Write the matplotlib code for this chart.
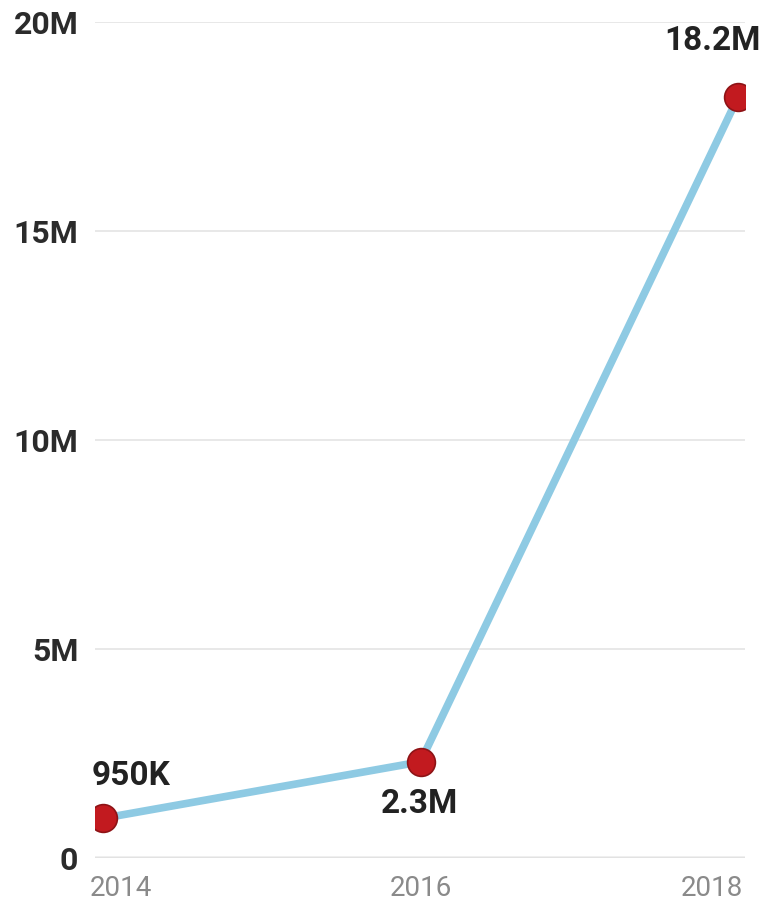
import numpy as np
import matplotlib
matplotlib.use('Agg')
import matplotlib.pyplot as plt
from matplotlib.ticker import FuncFormatter
import matplotlib.transforms as mtransforms

#---------------------- DATA
years  = [2014, 2016, 2018]
values = [950000, 2300000, 18200000]
labels = ['950K', '2.3M', '18.2M']
yticks = [0, 5e6, 10e6, 15e6, 20e6]

# label offsets in pixels (dx, dy) relative to each point
offs = [(28, 42), (-1, -42), (-26, 56)]

#---------------------- PLOTTING
plt.rcParams['font.family'] = ['Roboto', 'DejaVu Sans']

fig = plt.figure(figsize=(7.6, 9.01), dpi=100)
ax = fig.add_axes([95/760., 1-858/901., 650/760., (858-22)/901.])

ax.plot(years, values, color='#8ecae3', linewidth=5.5, zorder=2, solid_capstyle='round')
ax.plot(years, values, 'o', markersize=20, markerfacecolor='#c21a1f',
        markeredgecolor='#8e1316', markeredgewidth=1.2, zorder=3)

for x, y, s, (dx, dy) in zip(years, values, labels, offs):
    ax.annotate(s, (x, y), xytext=(dx, dy), textcoords='offset pixels',
                ha='center', va='center', fontsize=24, fontweight='bold',
                color='#222222', zorder=4)

ax.set_xlim(2014 - 8/158.75, 2018 + 7/158.75)
ax.set_ylim(0, 20e6)

ax.set_yticks(yticks)
ax.yaxis.set_major_formatter(FuncFormatter(lambda v, p: '0' if v == 0 else '%dM' % (v/1e6)))
ax.set_xticks(years)
ax.set_xticklabels([str(y) for y in years])

ax.grid(axis='y', color='#e6e6e6', linewidth=1.3, zorder=0)
ax.axhline(0, color='#bdbdbd', linewidth=2.5, zorder=1)
for sp in ax.spines.values():
    sp.set_visible(False)

ax.tick_params(axis='both', length=0)
ax.tick_params(axis='y', pad=12, labelsize=23, labelcolor='#2b2b2b')
ax.tick_params(axis='x', pad=12, labelsize=20, labelcolor='#8a8a8a')
for t in ax.get_yticklabels():
    t.set_fontweight('bold')

xl = ax.get_xticklabels()
xl[0].set_ha('left')
xl[0].set_transform(xl[0].get_transform() + mtransforms.ScaledTranslation(-13/100., 0, fig.dpi_scale_trans))
xl[-1].set_ha('right')
xl[-1].set_transform(xl[-1].get_transform() + mtransforms.ScaledTranslation(5/100., 0, fig.dpi_scale_trans))

plt.savefig('out.png', dpi=100)
